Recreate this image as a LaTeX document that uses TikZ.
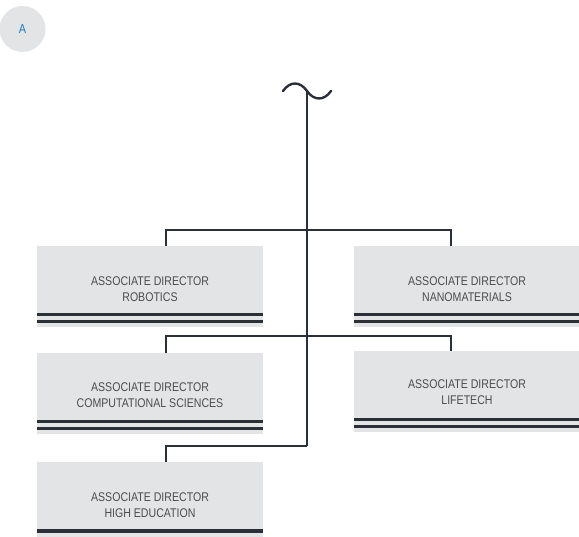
\documentclass[tikz,border=0pt]{standalone}
\usepackage{fontspec}
\setmainfont{Liberation Sans}
\newfontfamily\narrowfont[FakeStretch=0.84]{Liberation Sans}
\usepackage{tikz}
\usetikzlibrary{positioning, calc}
\definecolor{boxgray}{HTML}{E3E4E6}
\definecolor{linegray}{HTML}{2B2F38}
\definecolor{textgray}{HTML}{4D4D4F}
\definecolor{badgeblue}{HTML}{1A7DC0}
\tikzstyle{director}=[fill=boxgray, minimum width=226pt, minimum height=81pt, inner sep=0pt, anchor=north]
\tikzstyle{title}=[text=textgray, align=center, font=\narrowfont\fontsize{12.6}{16}\selectfont]
\tikzstyle{link}=[draw=linegray, line width=2.4pt]
\tikzstyle{rule}=[draw=linegray, line width=3pt]

\begin{document}
\begin{tikzpicture}[x=1pt, y=-1pt]
	\useasboundingbox (0,0) rectangle (579,537);

	\node[circle, fill=boxgray, minimum size=46pt, inner sep=0pt, text=badgeblue, font=\narrowfont\fontsize{13}{13}\selectfont] (badge) at (22.5,29) {A};

	\node[director] (robotics) at (150,246) {};
	\node[director] (nano) at (467,246) {};
	\node[director] (comp) at (150,353) {};
	\node[director] (life) at (467,351) {};
	\node[director, minimum height=75pt] (high) at (150,462) {};

	\node[title] at (150,289) {ASSOCIATE DIRECTOR\\ROBOTICS};
	\node[title] at (467,289) {ASSOCIATE DIRECTOR\\NANOMATERIALS};
	\node[title] at (150,395.5) {ASSOCIATE DIRECTOR\\COMPUTATIONAL SCIENCES};
	\node[title] at (467,392.5) {ASSOCIATE DIRECTOR\\LIFETECH};
	\node[title] at (150,505.5) {ASSOCIATE DIRECTOR\\HIGH EDUCATION};

	% double rules under the boxes
	\foreach \b in {robotics, nano, comp, life}
		{
			\draw[rule] ([yshift=13pt]\b.south west) -- ([yshift=13pt]\b.south east);
			\draw[rule] ([yshift=6pt]\b.south west) -- ([yshift=6pt]\b.south east);
		}
	\draw[rule, line width=4pt] ([yshift=6pt]high.south west) -- ([yshift=6pt]high.south east);

	% trunk with the break mark on top
	\coordinate (top) at (307,91);
	\coordinate (end) at (307,446);
	\draw[link, line cap=round] (283,91) .. controls (290,81) and (300,81) .. (top)
		.. controls (314,101) and (324,101) .. (331,91);
	\draw[link] (top) -- (end);

	\draw[link] ([xshift=16pt]robotics.north) |- (307,230) -| ([xshift=-16pt]nano.north);
	\draw[link] ([xshift=16pt]comp.north) |- (307,336) -| ([xshift=-16pt]life.north);
	\draw[link] ([xshift=16pt]high.north) |- (end);

\end{tikzpicture}
\end{document}
